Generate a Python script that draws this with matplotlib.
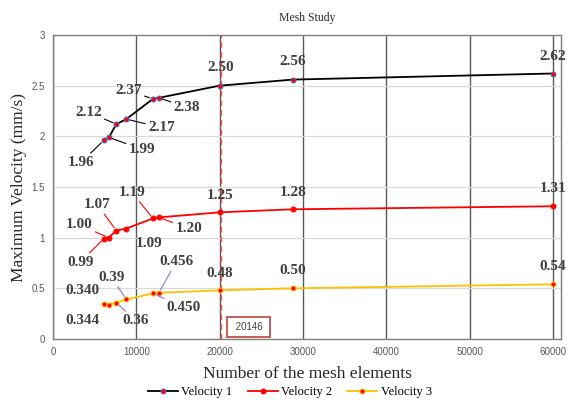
import matplotlib
matplotlib.use("Agg")
import matplotlib.pyplot as plt

# mesh size vs. max velocity
mesh_elements = [6100, 6700, 7600, 8800, 12000, 12700, 20000, 28800, 60000]
velocity_1 = [1.96, 1.99, 2.12, 2.17, 2.37, 2.38, 2.50, 2.56, 2.62]
velocity_2 = [0.99, 1.00, 1.07, 1.09, 1.19, 1.20, 1.25, 1.28, 1.31]
velocity_3 = [0.344, 0.340, 0.36, 0.39, 0.450, 0.456, 0.48, 0.50, 0.54]

labels_1 = ["1.96", "1.99", "2.12", "2.17", "2.37", "2.38", "2.50", "2.56", "2.62"]
labels_2 = ["0.99", "1.00", "1.07", "1.09", "1.19", "1.20", "1.25", "1.28", "1.31"]
labels_3 = ["0.344", "0.340", "0.36", "0.39", "0.450", "0.456", "0.48", "0.50", "0.54"]

chosen_mesh = 20146

SERIF = "Liberation Serif"
LABEL_COLOR = "#404040"

# label offsets in pixels (right, down) and whether a leader line is drawn
offsets_1 = [(-23, 22), (33, 12), (-28, -12), (35, 8.5), (-24.5, -8), (28, 9.4), (1.5, -18), (0, -18), (0, -17)]
leaders_1 = [True, True, True, True, True, True, False, False, False]
offsets_2 = [(-23.6, 23.6), (-29.6, -12.7), (-18.8, -25.6), (23, 14.7), (-21, -26), (30, 11), (0, -17), (0, -17), (0, -18)]
leaders_2 = [True, True, True, False, True, True, False, False, False]
offsets_3 = [(-21, 16.5), (-26, -13.6), (19, 18), (-14.6, -22), (31, 14), (17.4, -31), (0, -17), (0, -18), (0, -18)]
leaders_3 = [False, False, True, True, True, True, False, False, False]

fig = plt.figure(figsize=(5.72, 4.0), dpi=100)
ax = fig.add_axes([0.0927, 0.1525, 0.8883, 0.76])

ax.set_xlim(0, 61000)
ax.set_ylim(0, 3)
ax.set_xticks(range(0, 60001, 10000))
ax.set_yticks([0, 0.5, 1, 1.5, 2, 2.5, 3])
ax.set_yticklabels(["0", "0.5", "1", "1.5", "2", "2.5", "3"])

ax.yaxis.grid(True, color="#d9d9d9", lw=0.9)
ax.xaxis.grid(True, color="#595959", lw=1.0)
ax.set_axisbelow(True)
for s in ax.spines.values():
    s.set_color("#7f7f7f")
    s.set_linewidth(1.0)
ax.tick_params(length=0, labelsize=7, colors="#595959", pad=6)
for t in ax.get_xticklabels() + ax.get_yticklabels():
    t.set_fontfamily("Liberation Sans")

ax.axvline(chosen_mesh, color="#ff5050", lw=1.0, ls=(0, (4, 3)), zorder=2)

series = [
    (velocity_1, labels_1, offsets_1, leaders_1, "#000000", "#4472c4", "#000000", "Velocity 1"),
    (velocity_2, labels_2, offsets_2, leaders_2, "#ff0000", "#ff0000", "#ff0000", "Velocity 2"),
    (velocity_3, labels_3, offsets_3, leaders_3, "#ffc000", "#ffc000", "#9370db", "Velocity 3"),
]

for vals, labs, offs, leads, lc, mec, leader_c, name in series:
    ax.plot(mesh_elements, vals, color=lc, lw=1.3, marker="o", ms=3.6,
            mfc="#ff0000", mec=mec, mew=0.7, label=name, zorder=4)
    for x, y, lab, (dx, dy), lead in zip(mesh_elements, vals, labs, offs, leads):
        arrow = None
        if lead:
            arrow = dict(arrowstyle="-", color=leader_c, lw=0.8, shrinkA=0, shrinkB=2.5)
        ax.annotate(lab, (x, y), xytext=(dx, -dy), textcoords="offset pixels",
                    ha="center", va="center", fontsize=11, fontweight="bold",
                    fontfamily=SERIF, color=LABEL_COLOR, arrowprops=arrow,
                    annotation_clip=False, zorder=5)

ax.annotate(" 20146 ", (chosen_mesh, 0.118), xytext=(28, 0), textcoords="offset pixels",
            ha="center", va="center", fontsize=7, fontfamily="Liberation Sans", color="#404040",
            bbox=dict(boxstyle="square,pad=0.55", fc="white", ec="#c0504d", lw=1.3), zorder=6)

ax.set_title("Mesh Study", fontsize=8.5, fontfamily=SERIF, color="#262626", pad=10)
ax.set_xlabel("Number of the mesh elements", fontsize=12.5, fontfamily=SERIF, color="#262626", labelpad=6)
ax.set_ylabel("Maximum Velocity (mm/s)", fontsize=12.5, fontfamily=SERIF, color="#262626", labelpad=3)

fig.legend(loc="lower center", bbox_to_anchor=(0.507, 0.0), ncol=3, frameon=False,
           prop={"family": SERIF, "size": 9}, handlelength=2.4, columnspacing=1.2,
           handletextpad=0.3, borderaxespad=0.0, borderpad=0.15)

fig.savefig("out.png", dpi=100)
